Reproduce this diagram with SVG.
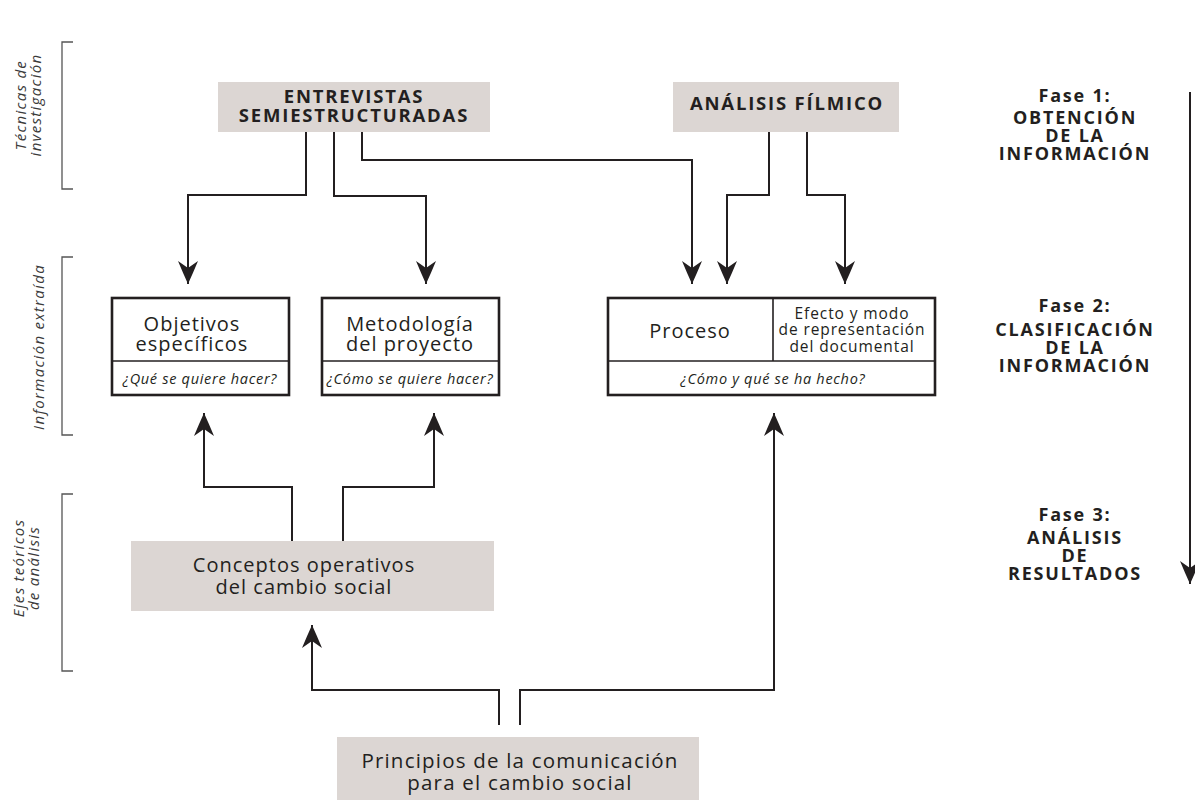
<svg xmlns="http://www.w3.org/2000/svg" width="1195" height="800" viewBox="0 0 1195 800">
<defs>
<style>
.grey{fill:#dcd6d3;}
.box{fill:#fff;stroke:#231f20;stroke-width:2.6;}
.div{stroke:#231f20;stroke-width:1.6;fill:none;}
.con{fill:none;stroke:#231f20;stroke-width:2;}
.brk{fill:none;stroke:#555;stroke-width:1.3;}
.t{font-family:"Open Sans","Liberation Sans",sans-serif;fill:#231f20;text-anchor:middle;}
.hd{font-size:18.5px;font-weight:bold;letter-spacing:1.8px;}
.nm{font-size:20px;letter-spacing:1px;}
.pr{font-size:20.5px;letter-spacing:1.2px;}
.sm{font-size:15.5px;letter-spacing:0.9px;}
.q{font-size:14.5px;font-style:italic;letter-spacing:0.7px;}
.side{font-size:15px;font-style:italic;letter-spacing:1.3px;fill:#3a3a3a;}
.ph{font-size:18px;font-weight:bold;letter-spacing:1.8px;}
</style>
<marker id="ah" markerUnits="userSpaceOnUse" markerWidth="24" markerHeight="20" viewBox="0 0 24 20" refX="23" refY="10" orient="auto">
<path d="M23,10 Q12,5 0,0 L7,10 L0,20 Q12,15 23,10 Z" fill="#231f20"/>
</marker>
</defs>
<rect width="1195" height="800" fill="#fff"/>

<g id="brackets">
<path class="brk" d="M73,42 H62 V189 H73"/>
<path class="brk" d="M73,257 H62 V435 H73"/>
<path class="brk" d="M73,494 H62 V671 H73"/>
</g>

<g id="side-labels">
<g transform="translate(0,105) rotate(-90)">
<text class="t side" x="0" y="26">Técnicas de<tspan x="0" dy="15">investigación</tspan></text>
</g>
<g transform="translate(0,347) rotate(-90)">
<text class="t side" x="0" y="44">Información extraída</text>
</g>
<g transform="translate(0,568) rotate(-90)">
<text class="t side" x="0" y="24">Ejes teóricos<tspan x="0" dy="15">de análisis</tspan></text>
</g>
</g>

<g id="connectors">
<path class="con" d="M306,131 V195 H188 V284" marker-end="url(#ah)"/>
<path class="con" d="M334,131 V196 H426 V284" marker-end="url(#ah)"/>
<path class="con" d="M362,131 V160 H692 V284" marker-end="url(#ah)"/>
<path class="con" d="M769,131 V195 H727 V284" marker-end="url(#ah)"/>
<path class="con" d="M807,131 V195 H845 V284" marker-end="url(#ah)"/>
<path class="con" d="M292,541 V487 H204 V413" marker-end="url(#ah)"/>
<path class="con" d="M343,541 V487 H434 V413" marker-end="url(#ah)"/>
<path class="con" d="M499,725 V690 H312 V625" marker-end="url(#ah)"/>
<path class="con" d="M520,725 V690 H774 V413" marker-end="url(#ah)"/>
<path class="con" d="M1190,92 V584" marker-end="url(#ah)"/>
</g>

<g id="entrevistas">
<rect class="grey" x="218" y="82" width="272" height="50"/>
<text class="t hd" x="354" y="103">ENTREVISTAS<tspan x="354" dy="19">SEMIESTRUCTURADAS</tspan></text>
</g>

<g id="analisis-filmico">
<rect class="grey" x="673" y="82" width="226" height="50"/>
<text class="t hd" x="787" y="110">ANÁLISIS FÍLMICO</text>
</g>

<g id="objetivos">
<rect class="box" x="112" y="298" width="177" height="97"/>
<line class="div" x1="112" y1="361" x2="289" y2="361"/>
<text class="t nm" x="192" y="331">Objetivos<tspan x="192" dy="20">específicos</tspan></text>
<text class="t q" x="200" y="384">¿Qué se quiere hacer?</text>
</g>

<g id="metodologia">
<rect class="box" x="322" y="298" width="177" height="97"/>
<line class="div" x1="322" y1="361" x2="499" y2="361"/>
<text class="t nm" x="410" y="331">Metodología<tspan x="410" dy="20">del proyecto</tspan></text>
<text class="t q" x="410" y="384">¿Cómo se quiere hacer?</text>
</g>

<g id="proceso">
<rect class="box" x="608" y="298" width="327" height="97"/>
<line class="div" x1="608" y1="361" x2="935" y2="361"/>
<line class="div" x1="773" y1="298" x2="773" y2="361"/>
<text class="t nm" x="690" y="338">Proceso</text>
<text class="t sm" x="852" y="319">Efecto y modo<tspan x="852" dy="16">de representación</tspan><tspan x="852" dy="17">del documental</tspan></text>
<text class="t q" x="773" y="384">¿Cómo y qué se ha hecho?</text>
</g>

<g id="conceptos">
<rect class="grey" x="131" y="541" width="363" height="70"/>
<text class="t nm" x="304" y="572">Conceptos operativos<tspan x="304" dy="22">del cambio social</tspan></text>
</g>

<g id="principios">
<rect class="grey" x="337" y="737" width="362" height="63"/>
<text class="t pr" x="520" y="768">Principios de la comunicación<tspan x="520" dy="22">para el cambio social</tspan></text>
</g>

<g id="fase1">
<text class="t ph" x="1075" y="102">Fase 1:<tspan x="1075" dy="22">OBTENCIÓN</tspan><tspan x="1075" dy="18">DE LA</tspan><tspan x="1075" dy="18">INFORMACIÓN</tspan></text>
</g>
<g id="fase2">
<text class="t ph" x="1075" y="312">Fase 2:<tspan x="1075" dy="24">CLASIFICACIÓN</tspan><tspan x="1075" dy="18">DE LA</tspan><tspan x="1075" dy="18">INFORMACIÓN</tspan></text>
</g>
<g id="fase3">
<text class="t ph" x="1075" y="521">Fase 3:<tspan x="1075" dy="23">ANÁLISIS</tspan><tspan x="1075" dy="18">DE</tspan><tspan x="1075" dy="18">RESULTADOS</tspan></text>
</g>
</svg>
